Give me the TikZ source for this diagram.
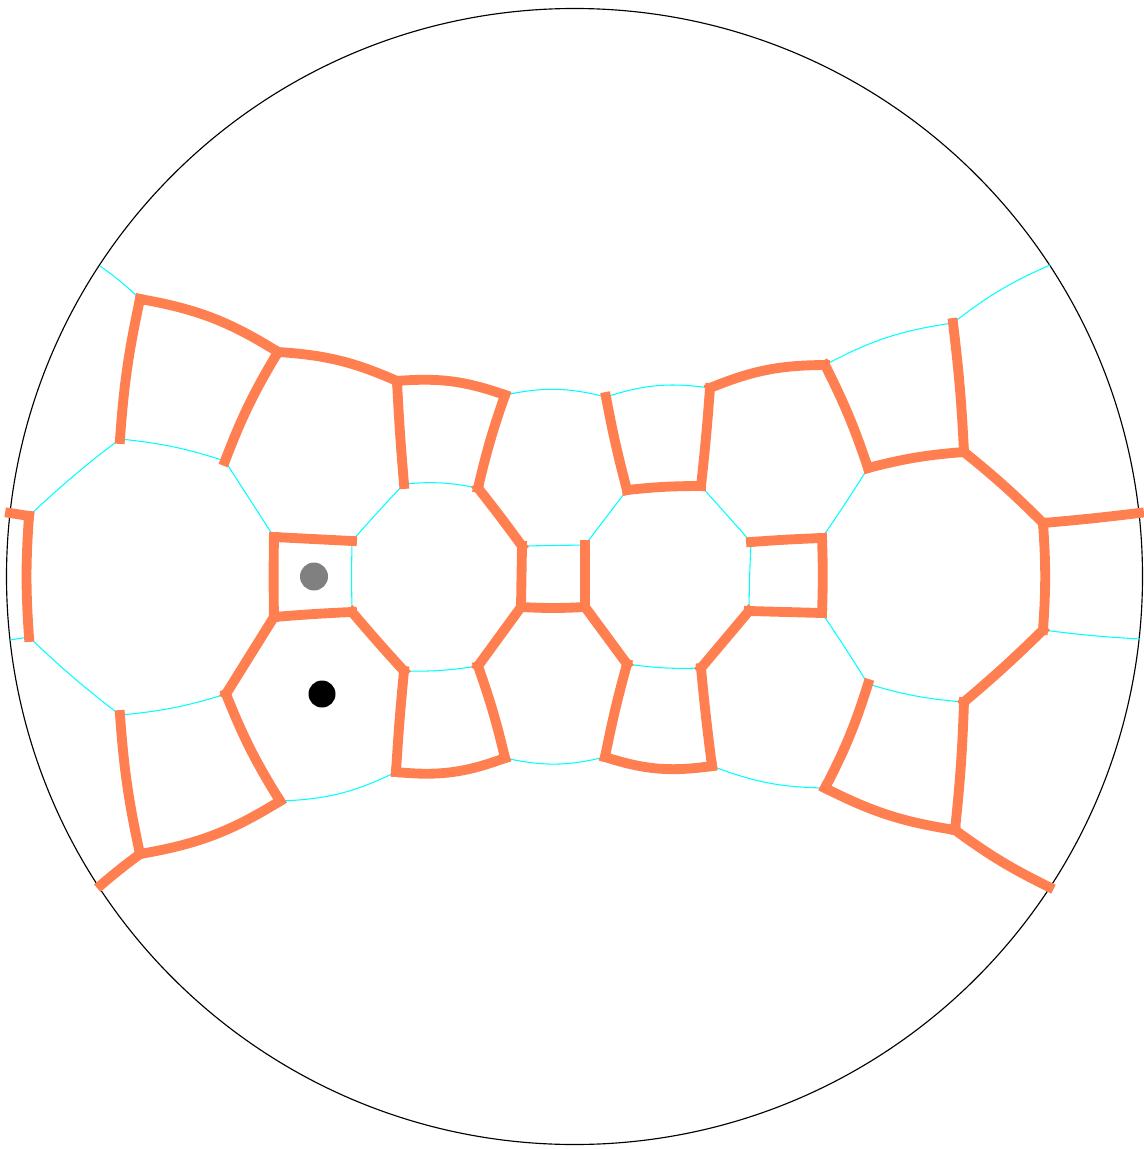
\documentclass[tikz,border=0pt]{standalone}
\definecolor{coralline}{RGB}{255,127,80}
\definecolor{cyanline}{RGB}{0,255,255}
\tikzset{
 orangeedge/.style={draw=coralline,line width=5.6pt,line cap=rect},
 cyanedge/.style={draw=cyanline,line width=0.6pt},
 bl/.style={bend left=#1},
 br/.style={bend right=#1}
}
\begin{document}
\begin{tikzpicture}[x=0.02cm,y=0.02cm]
\useasboundingbox (0,0) rectangle (1143,-1149);
\draw[black,line width=0.65pt] (574.5,-576.5) circle (568);
\foreach \n/\x/\y in {
a1/100/266,a2/140/299,a3/120/439,a4/278/352,a5/225/461,a6/397/381,a7/404/484,a8/505/395,a9/478/488,
b1/606/397,b2/627/490,b3/710/388,b4/701/486,b5/825/365,b6/868/468,b7/953/323,b8/964/452,b9/1050/265,
c1/1043/523,c2/1139/513,c3/1043/630,c4/1140/639,c5/964/702,c6/868/684,c7/955/830,c8/825/788,c9/1049/887,
d1/712/766,d2/701/668,d3/605/757,d4/627/664,d5/505/758,d6/478/666,d7/396/772,d8/404/671,d9/280/801,
e1/226/694,e2/140/854,e3/120/715,e4/101/885,e5/274/617,e6/29/637,e7/10/640,e8/29/516,e9/10/513,
f1/274/537,f2/352/541,f3/352/612,f4/522/546,f5/521/607,f6/585/545,f7/585/607,f8/751/542,f9/822/538,
g1/749/611,g2/822/613}
  {\coordinate (\n) at (\x,-\y);}
% cyan edges
\draw[cyanedge] (a1) to[bl=4] (a2);
\draw[cyanedge] (a8) to[bl=13] (b1);
\draw[cyanedge] (b1) to[bl=13] (b3);
\draw[cyanedge] (b5) to[bl=10] (b7);
\draw[cyanedge] (b7) to[bl=7] (b9);
\draw[cyanedge] (c3) to[br=2] (c4);
\draw[cyanedge] (c5) to[bl=6] (c6);
\draw[cyanedge] (c8) to[bl=10] (d1);
\draw[cyanedge] (d3) to[bl=13] (d5);
\draw[cyanedge] (d7) to[bl=12] (d9);
\draw[cyanedge] (e3) to[br=6] (e1);
\draw[cyanedge] (e3) to[bl=3] (e6);
\draw[cyanedge] (e6) to (e7);
\draw[cyanedge] (e8) to[bl=3] (a3);
\draw[cyanedge] (a3) to[bl=6] (a5);
\draw[cyanedge] (a5) to (f1);
\draw[cyanedge] (f2) to[br=1] (f3);
\draw[cyanedge] (f2) to[bl=1] (a7);
\draw[cyanedge] (a7) to[bl=8] (a9);
\draw[cyanedge] (f4) to (f6);
\draw[cyanedge] (f6) to (b2);
\draw[cyanedge] (b4) to (f8);
\draw[cyanedge] (f8) to[br=1] (g1);
\draw[cyanedge] (f9) to[br=1] (b6);
\draw[cyanedge] (g2) to[bl=1] (c6);
\draw[cyanedge] (d2) to[bl=5] (d4);
\draw[cyanedge] (d6) to[bl=5] (d8);
% orange edges
\draw[orangeedge] (a3) to[bl=4] (a2);
\draw[orangeedge] (a2) to[bl=11] (a4);
\draw[orangeedge] (a4) to[br=5] (a5);
\draw[orangeedge] (a4) to[bl=10] (a6);
\draw[orangeedge] (a6) to[br=1] (a7);
\draw[orangeedge] (a6) to[bl=12] (a8);
\draw[orangeedge] (a8) to[br=3] (a9);
\draw[orangeedge] (b1) to[br=2] (b2);
\draw[orangeedge] (b2) to[bl=3] (b4);
\draw[orangeedge] (b4) to[br=1] (b3);
\draw[orangeedge] (b3) to[bl=11] (b5);
\draw[orangeedge] (b5) to[bl=4] (b6);
\draw[orangeedge] (b6) to[bl=5] (b8);
\draw[orangeedge] (b7) to[bl=2] (b8);
\draw[orangeedge] (b8) to[bl=3] (c1);
\draw[orangeedge] (c1) to[br=1] (c2);
\draw[orangeedge] (c1) to[bl=4] (c3);
\draw[orangeedge] (c3) to[bl=2] (c5);
\draw[orangeedge] (c5) to[bl=2] (c7);
\draw[orangeedge] (c6) to[bl=5] (c8);
\draw[orangeedge] (c8) to[br=9] (c7);
\draw[orangeedge] (c7) to[br=5] (c9);
\draw[orangeedge] (d1) to[bl=1] (d2);
\draw[orangeedge] (d1) to[bl=13] (d3);
\draw[orangeedge] (d3) to[bl=2] (d4);
\draw[orangeedge] (d5) to[br=3] (d6);
\draw[orangeedge] (d5) to[bl=13] (d7);
\draw[orangeedge] (d7) to[bl=1] (d8);
\draw[orangeedge] (d9) to[bl=5] (e1);
\draw[orangeedge] (d9) to[bl=11] (e2);
\draw[orangeedge] (e2) to[bl=4] (e3);
\draw[orangeedge] (e2) to[br=2] (e4);
\draw[orangeedge] (e1) to (e5);
\draw[orangeedge] (e6) to[bl=4] (e8);
\draw[orangeedge] (e8) to (e9);
\draw[orangeedge] (f1) to (f2);
\draw[orangeedge] (f1) to[br=1] (e5);
\draw[orangeedge] (e5) to[bl=1] (f3);
\draw[orangeedge] (f3) to[br=1] (d8);
\draw[orangeedge] (a9) to[bl=1] (f4);
\draw[orangeedge] (f4) to (f5);
\draw[orangeedge] (f5) to[br=3] (f7);
\draw[orangeedge] (f6) to (f7);
\draw[orangeedge] (f5) to (d6);
\draw[orangeedge] (f7) to (d4);
\draw[orangeedge] (g1) to (d2);
\draw[orangeedge] (f8) to[bl=1] (f9);
\draw[orangeedge] (f9) to[bl=2] (g2);
\draw[orangeedge] (g1) to (g2);
\fill[gray] (314,-576.5) circle (14);
\fill[black] (322,-694) circle (13.5);
\end{tikzpicture}
\end{document}
